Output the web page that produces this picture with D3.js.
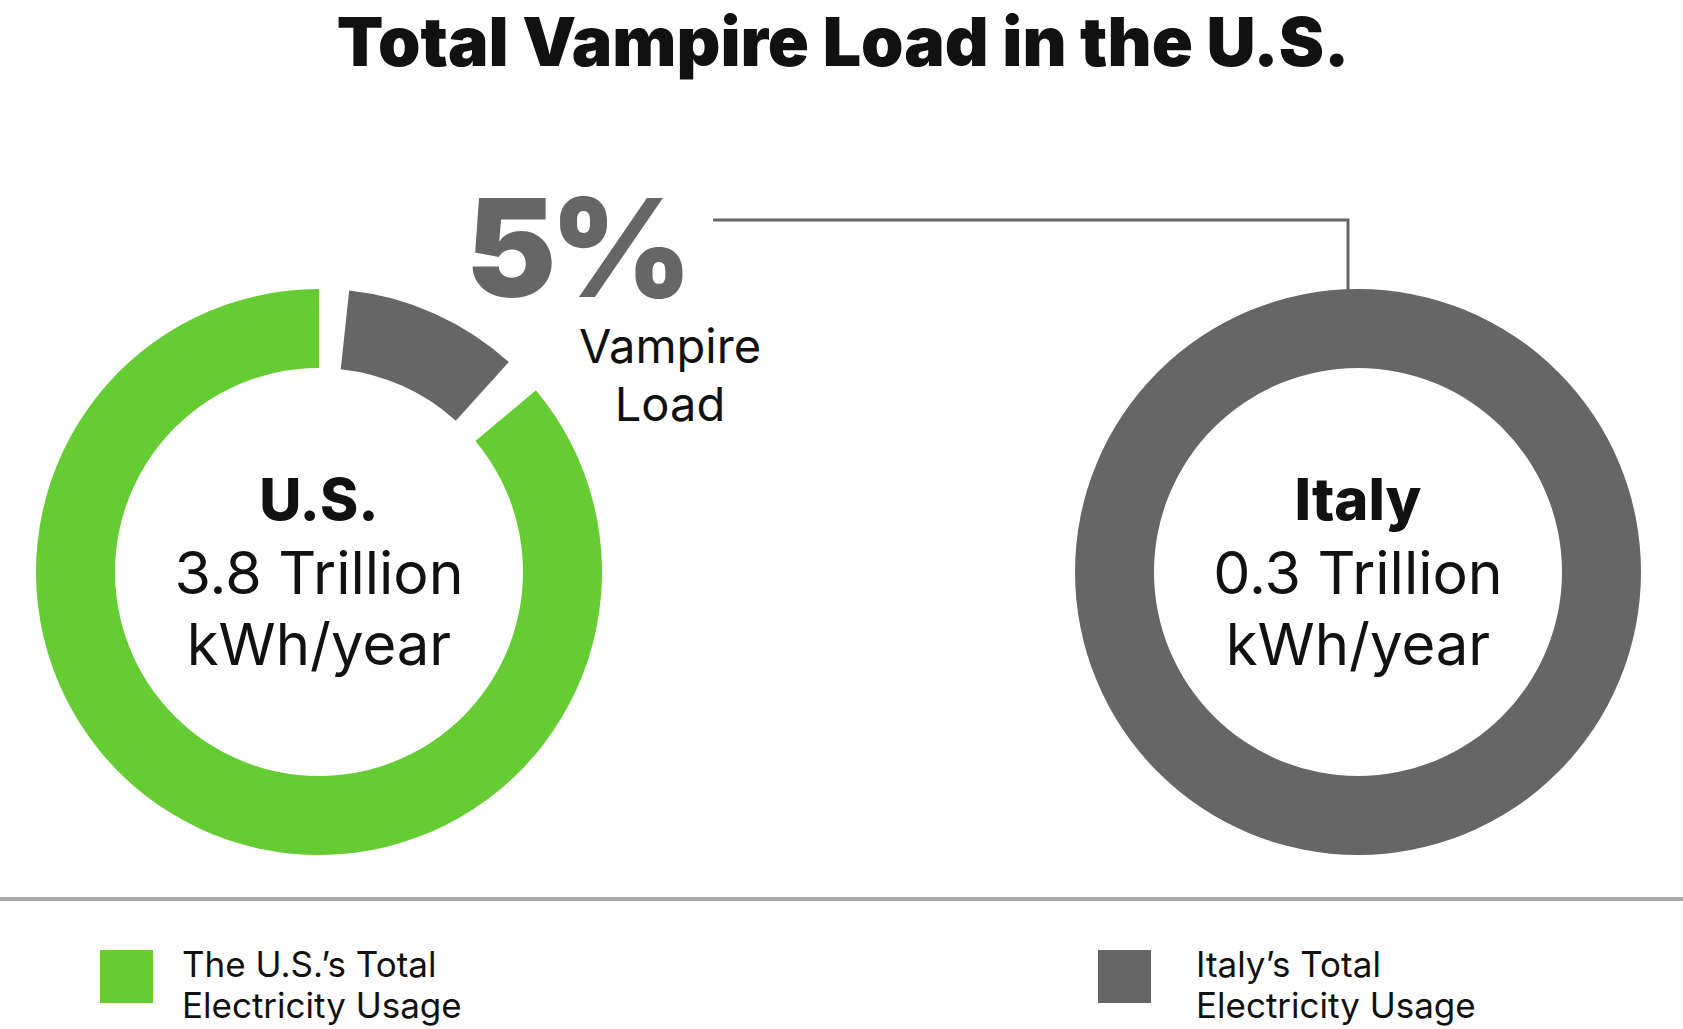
<!DOCTYPE html><html><head><meta charset="utf-8">
<script src="https://cdn.jsdelivr.net/npm/d3@7"></script>
<style>body{margin:0;background:#fff}text{font-family:Inter,"Open Sans",sans-serif}</style></head><body>
<script>
const title="Total Vampire Load in the U.S.";
const countries=["U.S.","Italy"];
const values=["3.8 Trillion","0.3 Trillion"];
const units=["kWh/year","kWh/year"];
// segments in percent of circle: [start,end,color]
const usSegments=[{s:1.7,e:11.7,c:"#666666"},{s:13.9,e:100,c:"#66cc33"}];
const italySegments=[{s:0,e:100,c:"#666666"}];
const legendLabels=[["The U.S.’s Total","Electricity Usage"],["Italy’s Total","Electricity Usage"]];
const legendColors=["#66cc33","#666666"];
const pct="5%";

const svg=d3.select("body").append("svg").attr("width",1683).attr("height",1029);
svg.append("text").attr("x",843).attr("y",66).attr("text-anchor","middle").attr("font-size",68).attr("font-weight",900).attr("fill","#111").text(title);
const ang=d3.scaleLinear().domain([0,100]).range([0,2*Math.PI]);
const arc=d3.arc().innerRadius(204).outerRadius(283);
const centers=[319,1358];
[usSegments,italySegments].forEach((segs,i)=>{
  const g=svg.append("g").attr("transform",`translate(${centers[i]},572)`);
  g.selectAll("path").data(segs).join("path").attr("fill",d=>d.c)
   .attr("d",d=>arc({startAngle:ang(d.s),endAngle:ang(d.e)}));
  g.append("text").attr("y",-52).attr("text-anchor","middle").attr("font-size",58).attr("font-weight",800).attr("fill","#111").text(countries[i]);
  g.append("text").attr("y",22).attr("text-anchor","middle").attr("font-size",59).attr("fill","#111").text(values[i]);
  g.append("text").attr("y",93).attr("text-anchor","middle").attr("font-size",58).attr("fill","#111").text(units[i]);
});
svg.append("path").attr("d","M713,220H1348V290").attr("fill","none").attr("stroke","#666").attr("stroke-width",3);
svg.append("text").attr("x",576).attr("y",297).attr("text-anchor","middle").attr("font-size",136).attr("font-weight",900).attr("fill","#666").attr("letter-spacing",-6).text(pct);
svg.append("text").attr("x",670).attr("y",363).attr("text-anchor","middle").attr("font-size",47).attr("fill","#111").text("Vampire");
svg.append("text").attr("x",670).attr("y",421).attr("text-anchor","middle").attr("font-size",47).attr("fill","#111").text("Load");
svg.append("line").attr("x1",0).attr("x2",1683).attr("y1",899).attr("y2",899).attr("stroke","#aaa").attr("stroke-width",4);
const lx=[100,1098];
const tx=[182,1196];
legendLabels.forEach((l,i)=>{
  svg.append("rect").attr("x",lx[i]).attr("y",950).attr("width",53).attr("height",53).attr("fill",legendColors[i]);
  l.forEach((t,j)=>svg.append("text").attr("x",tx[i]).attr("y",977+j*41).attr("font-size",35).attr("fill","#111").text(t));
});
</script></body></html>
